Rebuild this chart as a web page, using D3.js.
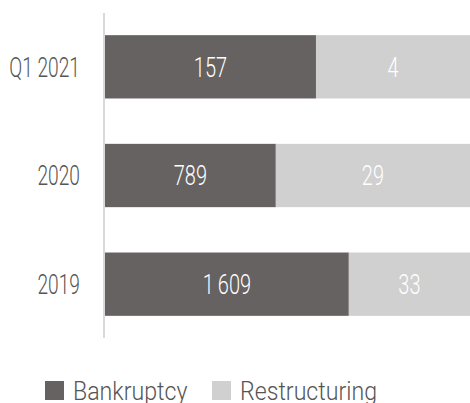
<!DOCTYPE html>
<html>
<head>
<meta charset="utf-8">
<script src="https://cdn.jsdelivr.net/npm/d3@7/dist/d3.min.js"></script>
<style>
  html, body { margin: 0; padding: 0; background: #fff; }
  svg { display: block; font-family: Roboto, "Liberation Sans", sans-serif; font-weight: 300; }
</style>
</head>
<body>
<svg id="chart" width="470" height="403"></svg>
<script>
// ---- data ----
const categories = ["Q1 2021", "2020", "2019"];
const bankruptcyCounts = [157, 789, 1609];
const restructuringCounts = [4, 29, 33];
// segment shares of the full bar (percent)
const bankruptcyShare = [57.8, 46.8, 66.8];
const restructuringShare = [42.2, 53.2, 33.2];
const seriesNames = ["Bankruptcy", "Restructuring"];
const seriesColors = ["#666261", "#d0d0d0"];

const fmt = v => d3.format(",")(v).replace(/,/g, "\u2009");
const NUM_SCALE = 0.74, CAT_SCALE = 0.71, LEG_SCALE = 0.89;

const svg = d3.select("#chart");
const x = d3.scaleLinear().domain([0, 100]).range([105, 470]);
const y = d3.scaleBand().domain(categories).range([13, 338]).paddingInner(0.4174).paddingOuter(0.204);

const rows = categories.map((c, i) => ({
  cat: c,
  segs: [
    { s: 0, x0: 0, x1: bankruptcyShare[i], v: bankruptcyCounts[i] },
    { s: 1, x0: bankruptcyShare[i], x1: bankruptcyShare[i] + restructuringShare[i], v: restructuringCounts[i] }
  ]
}));

const g = svg.append("g");
const row = g.selectAll("g.row").data(rows).join("g").attr("class", "row");

row.selectAll("rect").data(d => d.segs.map(s => ({...s, cat: d.cat}))).join("rect")
  .attr("x", d => x(d.x0))
  .attr("y", d => y(d.cat))
  .attr("width", d => x(d.x1) - x(d.x0))
  .attr("height", y.bandwidth())
  .attr("fill", d => seriesColors[d.s]);

row.selectAll("g.val").data(d => d.segs.map(s => ({...s, cat: d.cat}))).join("g")
  .attr("class", "val")
  .attr("transform", d => `translate(${(x(d.x0) + x(d.x1)) / 2},${y(d.cat) + y.bandwidth() / 2}) scale(${NUM_SCALE},1)`)
  .append("text")
  .attr("dy", "0.36em")
  .attr("text-anchor", "middle")
  .attr("fill", "#ffffff")
  .attr("font-size", 27)
  .text(d => fmt(d.v));

// category axis
const pad = 24;
const yAxis = d3.axisLeft(y).tickSize(0).tickPadding(pad);
const ax = svg.append("g").attr("transform", "translate(104,0)").call(yAxis);
ax.attr("font-family", null).attr("font-size", null);
ax.select(".domain").attr("stroke", "#d9d9d9").attr("stroke-width", 2).attr("d", "M0,13V338");
ax.selectAll("text")
  .attr("font-size", 27).attr("fill", "#555")
  .attr("dy", "0.36em")
  .attr("x", -pad / CAT_SCALE)
  .attr("transform", `scale(${CAT_SCALE},1)`);

// legend
const legendX = [45, 212];
const lg = svg.append("g").selectAll("g").data(seriesNames).join("g")
  .attr("transform", (d, i) => `translate(${legendX[i]},381)`);
lg.append("rect").attr("width", 19).attr("height", 19).attr("fill", (d, i) => seriesColors[i]);
lg.append("g").attr("transform", `translate(28,19) scale(${LEG_SCALE},1)`)
  .append("text").attr("font-size", 26).attr("fill", "#555").text(d => d);
</script>
</body>
</html>
